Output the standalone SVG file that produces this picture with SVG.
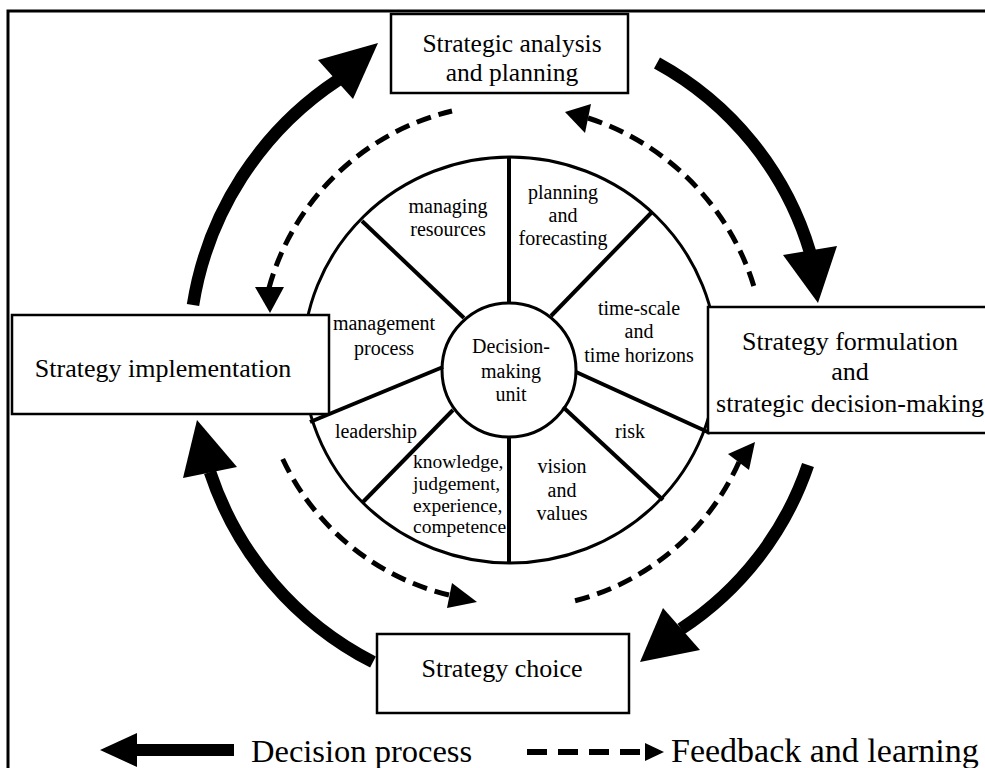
<svg xmlns="http://www.w3.org/2000/svg" width="985" height="768" viewBox="0 0 985 768">
<style>
  text { font-family: "Liberation Serif", "Times New Roman", serif; fill: #000; }
  .box { fill: #fff; stroke: #000; stroke-width: 2.5; }
  .big { font-size: 26px; text-anchor: middle; }
  .lbl { font-size: 20px; text-anchor: middle; }
  .lbl-s { font-size: 19.5px; text-anchor: start; }
  .leg { font-size: 32.5px; }
  .ring { fill: none; stroke: #000; stroke-width: 3; }
  .spoke { stroke: #000; stroke-width: 4; stroke-linecap: butt; }
  .thick { fill: none; stroke: #000; stroke-width: 12.5; stroke-linecap: butt; }
  .dash { fill: none; stroke: #000; stroke-width: 5; stroke-dasharray: 15 8; }
  .head { fill: #000; stroke: none; }
</style>
<rect x="0" y="0" width="985" height="768" fill="#fff"/>
<rect id="frame" x="8" y="11" width="1000" height="800" fill="none" stroke="#000" stroke-width="3"/>

<g id="wheel">
  <ellipse class="ring" cx="510" cy="360" rx="207" ry="203"/>
  <line class="spoke" x1="509" y1="157" x2="509" y2="303"/>
  <line class="spoke" x1="509" y1="437" x2="509" y2="563"/>
  <line class="spoke" x1="362" y1="221" x2="464" y2="318"/>
  <line class="spoke" x1="652" y1="212" x2="551" y2="316"/>
  <line class="spoke" x1="576" y1="372" x2="710" y2="433"/>
  <line class="spoke" x1="563" y1="407" x2="663" y2="500"/>
  <line class="spoke" x1="453" y1="410" x2="362" y2="503"/>
  <line class="spoke" x1="443" y1="367" x2="310" y2="422"/>
  <g id="seg-resources"><text class="lbl" x="448" y="213">managing</text><text class="lbl" x="448" y="236">resources</text></g>
  <g id="seg-planning"><text class="lbl" x="563" y="199">planning</text><text class="lbl" x="563" y="222">and</text><text class="lbl" x="563" y="245">forecasting</text></g>
  <g id="seg-time"><text class="lbl" x="639" y="315">time-scale</text><text class="lbl" x="639" y="338">and</text><text class="lbl" x="639" y="362">time horizons</text></g>
  <g id="seg-management"><text class="lbl" x="384" y="330">management</text><text class="lbl" x="384" y="355">process</text></g>
  <g id="seg-leadership"><text class="lbl" x="376" y="438">leadership</text></g>
  <g id="seg-risk"><text class="lbl" x="630" y="438">risk</text></g>
  <g id="seg-knowledge"><text class="lbl-s" x="413" y="468">knowledge,</text><text class="lbl-s" x="413" y="490">judgement,</text><text class="lbl-s" x="413" y="512">experience,</text><text class="lbl-s" x="413" y="533">competence</text></g>
  <g id="seg-vision"><text class="lbl" x="562" y="473">vision</text><text class="lbl" x="562" y="497">and</text><text class="lbl" x="562" y="520">values</text></g>
</g>
<g id="node-dmu">
  <circle class="ring" cx="509" cy="370" r="67" fill="#fff"/>
  <text class="lbl" x="511" y="353">Decision-</text>
  <text class="lbl" x="511" y="378">making</text>
  <text class="lbl" x="511" y="401">unit</text>
</g>

<g id="connectors">
  <path class="thick" d="M193,305 A332,332 0 0,1 338,80"/>
  <polygon class="head" points="378,43 318,60 353,99"/>
  <path class="thick" d="M657,63 A320,320 0 0,1 810,252"/>
  <polygon class="head" points="818,303 783,255 837,246"/>
  <path class="thick" d="M808,465 A318,318 0 0,1 681,629"/>
  <polygon class="head" points="640,662 663,608 700,650"/>
  <path class="thick" d="M373,662 A330,330 0 0,1 210,472"/>
  <polygon class="head" points="197,420 183,478 237,467"/>

  <path class="dash" d="M269,288 A250,250 0 0,1 452,111"/>
  <polygon class="head" points="270,313 255,287 284,287"/>
  <path class="dash" d="M588,118 A256,256 0 0,1 755,290"/>
  <polygon class="head" points="565,112 591,104 585,133"/>
  <path class="dash" d="M449,595 A248,248 0 0,1 280,453"/>
  <polygon class="head" points="477,602 452,583 447,608"/>
  <path class="dash" d="M739,462 A247,247 0 0,1 570,602"/>
  <polygon class="head" points="755,442 728,454 749,470"/>
</g>

<g id="node-analysis">
  <rect class="box" x="391" y="14" width="237" height="79"/>
  <text class="big" x="512" y="52" style="font-size:25.5px">Strategic analysis</text>
  <text class="big" x="512" y="81" style="font-size:25.5px">and planning</text>
</g>
<g id="node-implementation">
  <rect class="box" x="12" y="315" width="317" height="99"/>
  <text class="big" x="163" y="377">Strategy implementation</text>
</g>
<g id="node-formulation">
  <rect class="box" x="708" y="307" width="300" height="126"/>
  <text class="big" x="850" y="350">Strategy formulation</text>
  <text class="big" x="850" y="380">and</text>
  <text class="big" x="850" y="412">strategic decision-making</text>
</g>
<g id="node-choice">
  <rect class="box" x="377" y="634" width="252" height="79"/>
  <text class="big" x="502" y="677">Strategy choice</text>
</g>

<g id="legend">
  <polygon class="head" points="100,750 137,733 137,767"/>
  <rect x="136" y="744" width="98" height="12" fill="#000"/>
  <text class="leg" x="251" y="762">Decision process</text>
  <line x1="527" y1="752" x2="645" y2="752" stroke="#000" stroke-width="6" stroke-dasharray="20 11"/>
  <polygon class="head" points="645,743 664,752 645,761"/>
  <text class="leg" x="671" y="762" style="font-size:34px">Feedback and learning</text>
</g>
</svg>
